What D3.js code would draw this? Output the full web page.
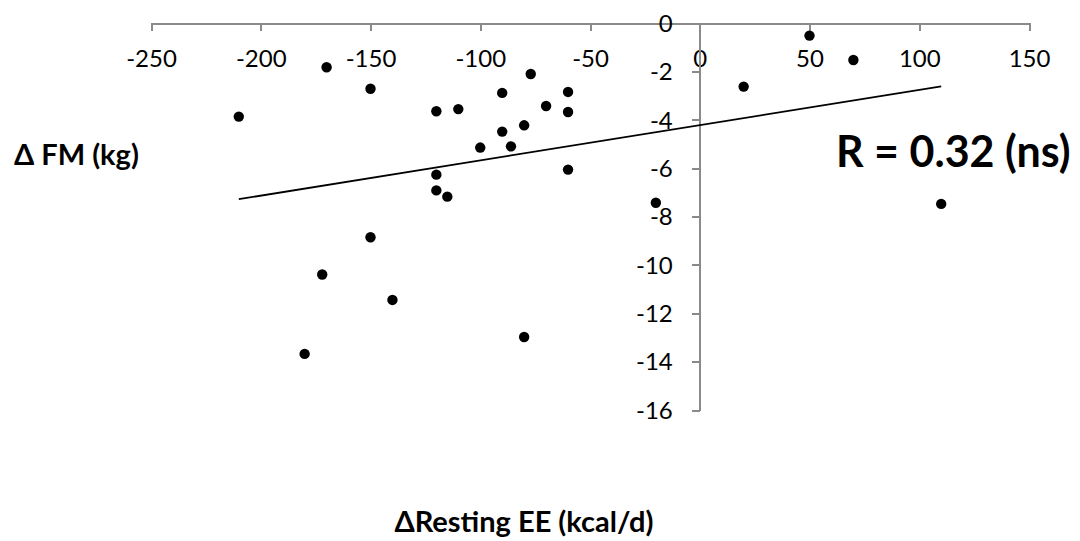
<!DOCTYPE html>
<html>
<head>
<meta charset="utf-8">
<script src="https://cdn.jsdelivr.net/npm/d3@7"></script>
<style>
  html, body { margin: 0; padding: 0; background: #fff; }
  svg { display: block; }
  text { font-family: Lato, "Open Sans", "Liberation Sans", sans-serif; fill: #000; }
</style>
</head>
<body>
<svg id="chart" width="1080" height="541"></svg>
<script>
// Change in resting energy expenditure (kcal/d) per subject
const restingEE = [-210, -170, -150, -120, -120, -120, -115, -110, -90, -77,
                   -60, -70, -60, -80, -90, -100, -86, -60, -150, -172,
                   -140, -180, -80, -20, 50, 70, 20, 110];
// Change in fat mass (kg) per subject
const fatMass = [-3.87, -1.83, -2.72, -3.65, -6.27, -6.92, -7.18, -3.56, -2.89, -2.11,
                 -2.85, -3.43, -3.68, -4.23, -4.49, -5.15, -5.10, -6.06, -8.86, -10.4,
                 -11.45, -13.68, -12.98, -7.43, -0.52, -1.53, -2.63, -7.48];

const xTicks = [-250, -200, -150, -100, -50, 0, 50, 100, 150];
const yTicks = [0, -2, -4, -6, -8, -10, -12, -14, -16];

const xTitle = "\u0394Resting EE (kcal/d)";
const yTitle = "\u0394 FM (kg)";
const rLabel = "R = 0.32 (ns)";

const svg = d3.select("#chart");
const axisColor = "#8a8a8a";
const plainNumber = d => String(d);   // keeps an ASCII hyphen for negatives

const x = d3.scaleLinear().domain([-250, 150]).range([151, 1029]);
const y = d3.scaleLinear().domain([-16, 0]).range([410, 23]);

// Horizontal axis crossing at y = 0, ticks pointing down
const xAxisG = svg.append("g")
  .attr("transform", `translate(0,${y(0)})`)
  .call(d3.axisBottom(x).tickValues(xTicks).tickSize(8).tickSizeOuter(0).tickFormat(plainNumber));
xAxisG.select(".domain").attr("stroke", axisColor).attr("stroke-width", 2);
xAxisG.selectAll(".tick line").attr("stroke", axisColor).attr("stroke-width", 2);
xAxisG.selectAll(".tick text")
  .attr("y", 43.5).attr("dy", null)
  .style("font-size", "24px").attr("fill", "#000");

// Vertical axis crossing at x = 0, ticks pointing left
const yAxisG = svg.append("g")
  .attr("transform", `translate(${x(0)},0)`)
  .call(d3.axisLeft(y).tickValues(yTicks).tickSize(8).tickSizeOuter(0).tickFormat(plainNumber));
yAxisG.select(".domain").attr("stroke", axisColor).attr("stroke-width", 2);
yAxisG.selectAll(".tick line").attr("stroke", axisColor).attr("stroke-width", 2);
yAxisG.selectAll(".tick text")
  .attr("x", -27).attr("dy", "8.3px").attr("text-anchor", "end")
  .style("font-size", "24px").attr("fill", "#000");
svg.selectAll(".domain, .tick line").attr("shape-rendering", "crispEdges");

// Least-squares trend line across the observed range
const n = restingEE.length;
const mx = d3.mean(restingEE), my = d3.mean(fatMass);
let sxy = 0, sxx = 0;
for (let i = 0; i < n; i++) {
  sxy += (restingEE[i] - mx) * (fatMass[i] - my);
  sxx += (restingEE[i] - mx) ** 2;
}
const slope = sxy / sxx;
const intercept = my - slope * mx;
const [x0, x1] = d3.extent(restingEE);
svg.append("line")
  .attr("x1", x(x0)).attr("y1", y(intercept + slope * x0))
  .attr("x2", x(x1)).attr("y2", y(intercept + slope * x1))
  .attr("stroke", "#000").attr("stroke-width", 1.8);

// Subjects
svg.append("g").selectAll("circle")
  .data(d3.range(n))
  .join("circle")
  .attr("cx", i => x(restingEE[i]))
  .attr("cy", i => y(fatMass[i]))
  .attr("r", 5.2)
  .attr("fill", "#000");

// Titles and correlation label
svg.append("text")
  .attr("x", 14).attr("y", 165)
  .style("font-size", "29px").style("font-weight", "bold")
  .text(yTitle);

svg.append("text")
  .attr("x", 524).attr("y", 531.5).attr("text-anchor", "middle")
  .style("font-size", "29px").style("font-weight", "bold")
  .text(xTitle);

svg.append("text")
  .attr("x", 836).attr("y", 166.5)
  .style("font-size", "43px").style("font-weight", "bold")
  .text(rLabel);
</script>
</body>
</html>
